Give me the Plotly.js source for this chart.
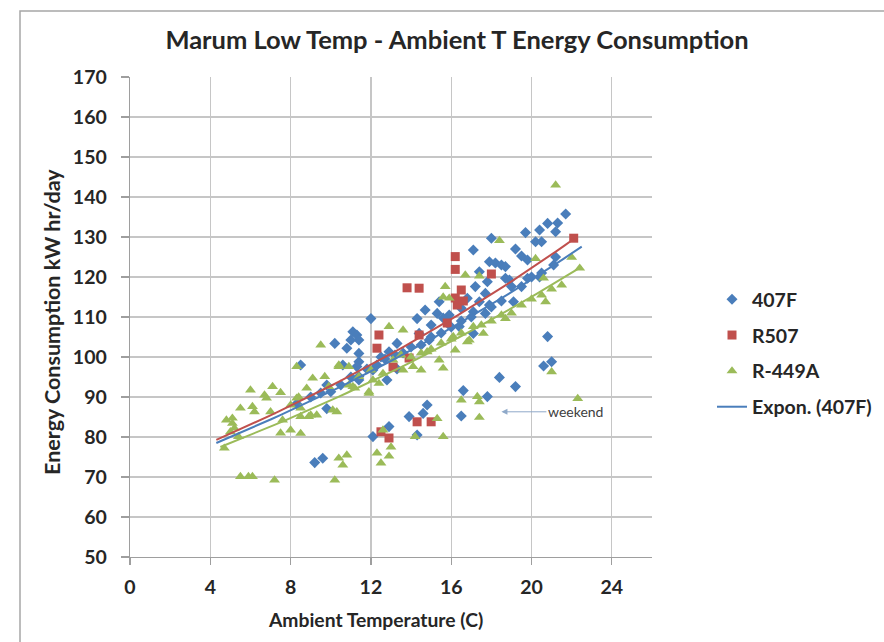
<!DOCTYPE html>
<html>
<head>
<meta charset="utf-8">
<script src="https://cdn.plot.ly/plotly-3.0.1.min.js"></script>
<style>
  html, body { margin: 0; padding: 0; background: #ffffff; }
  #chart { width: 884px; height: 642px; }
</style>
</head>
<body>
<div id="chart"></div>
<script>
// ---- Data ----
const seriesNames = ["407F", "R507", "R-449A"];
const trendName = "Expon. (407F)";

// 407F (blue diamonds): ambient temperature (C), energy (kW hr/day)
const x407F = [21.7, 20.8, 21.3, 21.2, 20.4, 19.7, 18.0, 17.1, 19.2, 19.5, 19.8, 20.2, 20.5, 17.9, 18.2, 18.5, 18.7, 17.4, 17.8, 17.2,
  18.7, 18.9, 19.8, 19.5, 19.0, 21.1, 20.4, 17.7, 16.8, 17.4, 17.9, 19.1, 17.1, 16.5, 17.7, 15.9, 15.6, 20.8, 17.1, 16.4,
  21.0, 20.6, 18.4, 19.2, 17.8, 16.6, 16.5, 15.4, 14.7, 15.3, 14.3, 15.0, 12.0, 11.1, 11.3, 10.8, 11.4, 13.3, 14.4, 14.9,
  12.9, 11.4, 11.3, 12.1, 12.8, 11.4, 10.6, 14.8, 14.6, 13.9, 12.9, 12.1, 14.3, 10.2, 11.0, 11.4, 8.5, 11.4, 9.8, 9.2,
  9.6, 9.8, 10.0, 8.3, 9.0, 9.5, 10.5, 11.0, 11.8, 12.3, 12.7, 13.2, 13.6, 14.0, 14.5, 15.0, 15.5, 16.0, 16.5, 17.0,
  18.0, 18.5, 20.0, 20.5, 21.2, 13.3, 12.5];
const y407F = [135.75, 133.4, 133.5, 131.3, 131.75, 131.1, 129.7, 126.75, 127.0, 125.25, 124.25, 128.8, 128.8, 123.8, 123.5, 123.0, 122.6, 121.3, 118.8, 117.6,
  119.7, 119.25, 119.7, 117.6, 117.6, 123.0, 120.0, 115.9, 114.7, 113.8, 113.0, 113.8, 111.3, 112.2, 110.9, 110.5, 109.75, 105.1, 105.9, 107.6,
  98.8, 97.75, 94.9, 92.6, 90.1, 91.6, 85.25, 113.8, 111.75, 110.9, 109.6, 108.0, 109.6, 106.3, 105.5, 102.2, 104.25, 103.4, 105.9, 104.25,
  101.3, 98.8, 97.6, 96.75, 94.25, 94.25, 98.0, 88.0, 85.9, 85.1, 82.6, 80.1, 80.5, 103.4, 104.25, 100.9, 98.0, 95.1, 87.1, 73.6,
  74.7, 93.0, 91.3, 88.3, 90.0, 91.0, 93.0, 95.0, 97.0, 98.0, 99.5, 100.5, 101.0, 102.5, 103.0, 105.0, 106.0, 107.5, 109.0, 110.0,
  112.5, 114.0, 120.0, 121.0, 125.0, 97.0, 100.0];

// R507 (red squares)
const xR507 = [12.3, 12.4, 12.5, 12.9, 13.1, 13.8, 13.9, 14.3, 14.4, 14.4, 15.0, 15.8, 16.2, 16.2, 16.2, 16.3, 16.5, 16.6, 18.0, 22.1];
const yR507 = [102.2, 105.5, 81.3, 79.75, 97.5, 117.3, 99.75, 83.8, 105.5, 117.2, 83.8, 108.5, 125.1, 121.9, 114.75, 113.0, 116.75, 114.0, 120.75, 129.7];

// R-449A (green triangles)
const xR449A = [9.5, 8.3, 6.0, 7.1, 7.5, 6.7, 6.8, 5.5, 6.1, 6.2, 7.0, 4.8, 5.1, 5.1, 5.2, 5.0, 4.7, 5.4, 7.5, 8.0,
  8.5, 7.6, 8.3, 8.0, 8.5, 8.9, 9.3, 10.1, 10.3, 9.1, 9.7, 10.4, 5.5, 5.9, 6.1, 7.2, 10.2, 10.4, 10.8, 10.6,
  10.4, 10.9, 10.9, 11.2, 11.9, 9.9, 8.8, 8.4, 8.5, 9.0, 15.7, 15.9, 17.6, 17.1, 16.1, 16.8, 16.2, 15.4, 15.6, 14.8,
  13.6, 12.9, 14.1, 14.5, 13.6, 13.1, 12.6, 12.0, 11.4, 12.1, 11.1, 11.9, 12.4, 16.5, 17.3, 17.4, 17.4, 15.6, 14.2, 12.6,
  15.3, 12.3, 12.5, 12.9, 13.0, 21.2, 18.4, 20.2, 22.0, 22.4, 20.6, 20.7, 16.7, 17.4, 18.7, 16.9, 21.0, 22.3, 16.5, 17.5,
  18.0, 18.5, 19.0, 19.5, 20.0, 20.5, 21.0, 21.5, 14.0, 14.5, 15.0, 15.5, 13.5, 16.0, 15.6];
const yR449A = [103.0, 97.6, 91.75, 92.6, 91.1, 90.5, 89.7, 87.2, 87.6, 86.3, 86.3, 84.25, 84.7, 83.4, 82.2, 81.3, 77.2, 80.1, 81.0, 81.75,
  80.9, 84.25, 89.7, 88.0, 85.1, 85.1, 85.5, 86.75, 86.3, 94.7, 95.1, 98.0, 70.1, 70.1, 70.1, 69.25, 69.25, 74.7, 75.5, 73.0,
  97.6, 97.6, 93.0, 92.2, 91.3, 92.6, 92.2, 90.0, 87.2, 85.5, 117.6, 114.7, 105.9, 107.6, 105.1, 103.8, 101.75, 99.25, 97.2, 101.3,
  106.75, 107.6, 97.6, 96.75, 96.75, 99.25, 95.9, 96.75, 95.1, 94.25, 92.6, 90.9, 93.4, 89.25, 90.1, 88.8, 84.9, 80.1, 80.1, 81.75,
  84.6, 76.0, 73.5, 75.2, 77.5, 143.0, 129.1, 124.6, 124.9, 122.2, 119.7, 113.8, 120.5, 120.25, 109.6, 104.25, 96.3, 89.6, 106.0, 108.0,
  109.0, 110.5, 111.0, 113.0, 114.5, 115.5, 117.0, 118.0, 100.0, 101.0, 102.0, 103.5, 100.5, 104.5, 115.0];

// Exponential trendlines: start and end points
const trendX407F = [4.3, 22.5],  trendY407F = [78.5, 127.6];
const trendXR507 = [4.3, 22.1],  trendYR507 = [79.3, 129.5];
const trendXR449A = [4.5, 22.5], trendYR449A = [77.5, 122.6];

// axis ticks
const xTicks = [0, 4, 8, 12, 16, 20, 24];
const yTicks = [50, 60, 70, 80, 90, 100, 110, 120, 130, 140, 150, 160, 170];

// exponential curve (y = a*e^(bx)) through the two read end points
function expCurve(xs, ys) {
  const b = Math.log(ys[1] / ys[0]) / (xs[1] - xs[0]);
  const tx = [], ty = [];
  const steps = 40;
  for (let k = 0; k <= steps; k++) {
    const x = xs[0] + (xs[1] - xs[0]) * k / steps;
    tx.push(x); ty.push(ys[0] * Math.exp(b * (x - xs[0])));
  }
  return {x: tx, y: ty};
}

const BLUE = "#4a7ebb", RED = "#c0504d", GREEN = "#9bbb59";
const t407 = expCurve(trendX407F, trendY407F);
const tR507 = expCurve(trendXR507, trendYR507);
const tR449 = expCurve(trendXR449A, trendYR449A);

const traces = [
  {x: x407F, y: y407F, name: seriesNames[0], type: "scatter", mode: "markers", legendgroup: "a",
   marker: {symbol: "diamond", size: 8.5, color: BLUE}},
  {x: xR507, y: yR507, name: seriesNames[1], type: "scatter", mode: "markers", legendgroup: "b",
   marker: {symbol: "square", size: 9, color: RED}},
  {x: xR449A, y: yR449A, name: seriesNames[2], type: "scatter", mode: "markers", legendgroup: "c",
   marker: {symbol: "triangle-up", size: 9.5, color: GREEN}},
  {x: tR449.x, y: tR449.y, type: "scatter", mode: "lines", showlegend: false, hoverinfo: "skip",
   line: {color: GREEN, width: 2}},
  {x: tR507.x, y: tR507.y, type: "scatter", mode: "lines", showlegend: false, hoverinfo: "skip",
   line: {color: RED, width: 2}},
  {x: t407.x, y: t407.y, name: trendName, type: "scatter", mode: "lines", legendgroup: "d",
   line: {color: BLUE, width: 2}}
];

const FONT = "Lato, 'Open Sans', 'Liberation Sans', sans-serif";
const TXT = "#262626";

const layout = {
  width: 884, height: 642,
  paper_bgcolor: "#ffffff", plot_bgcolor: "#ffffff",
  margin: {l: 130, r: 232, t: 77, b: 85, pad: 0, autoexpand: false},
  font: {family: FONT, color: TXT},
  title: {text: "Marum Low Temp - Ambient T Energy Consumption",
          font: {family: FONT, size: 25.5, weight: "bold", color: TXT},
          x: 457 / 884, xanchor: "center", xref: "container",
          y: 1 - 40 / 642, yanchor: "middle", yref: "container"},
  xaxis: {range: [0, 26], tickvals: xTicks, ticktext: xTicks.map(String),
          showgrid: true, gridcolor: "#c6c6c6", gridwidth: 1.3, zeroline: false,
          showline: true, linecolor: "#9e9e9e", linewidth: 1.3,
          ticks: "outside", ticklen: 7, tickcolor: "#9e9e9e", tickwidth: 1.3,
          ticklabelstandoff: 5,
          tickfont: {family: FONT, size: 19.5, weight: "bold", color: TXT}},
  yaxis: {range: [50, 170], tickvals: yTicks, ticktext: yTicks.map(String),
          showgrid: true, gridcolor: "#c6c6c6", gridwidth: 1.3, zeroline: false,
          showline: true, linecolor: "#9e9e9e", linewidth: 1.3,
          ticks: "outside", ticklen: 8, tickcolor: "#9e9e9e", tickwidth: 1.3,
          ticklabelstandoff: 10,
          tickfont: {family: FONT, size: 19.5, weight: "bold", color: TXT}},
  legend: {x: (712 - 130) / 522, xanchor: "left", y: (557 - 280) / 480, yanchor: "top",
           bgcolor: "rgba(0,0,0,0)", tracegroupgap: 7.5, traceorder: "grouped",
           font: {family: FONT, size: 19.5, weight: "bold", color: TXT}},
  annotations: [
    {text: "Ambient Temperature (C)", xref: "paper", yref: "paper",
     x: (375 - 130) / 522, y: -(619 - 557) / 480, xanchor: "center", yanchor: "middle",
     showarrow: false, font: {family: FONT, size: 19.3, weight: "bold", color: TXT}},
    {text: "Energy Consumption kW hr/day", xref: "paper", yref: "paper",
     x: (52 - 130) / 522, y: (557 - 322) / 480, xanchor: "center", yanchor: "middle",
     textangle: -90, showarrow: false, font: {family: FONT, size: 21.5, weight: "bold", color: TXT}},
    {text: "weekend", x: 18.5, y: 86.3, xref: "x", yref: "y",
     showarrow: true, ax: 74, ay: 0, axref: "pixel", ayref: "pixel",
     arrowhead: 2, arrowsize: 1.2, arrowwidth: 1, arrowcolor: "#8fa9c9",
     font: {family: FONT, size: 14, color: "#404040"}}
  ],
  shapes: [
    {type: "rect", xref: "paper", yref: "paper",
     x0: (20 - 130) / 522, x1: 1.6, y0: -0.4, y1: (557 - 11) / 480,
     line: {color: "#a6a6a6", width: 1.5}, fillcolor: "rgba(0,0,0,0)", layer: "below"},
    {type: "line", xref: "x", yref: "y", x0: 0, x1: 4.4, y0: 70, y1: 70,
     line: {color: "#a8a8a8", width: 1.3}, layer: "below"}
  ]
};

Plotly.newPlot("chart", traces, layout, {displayModeBar: false, staticPlot: true});
</script>
</body>
</html>
